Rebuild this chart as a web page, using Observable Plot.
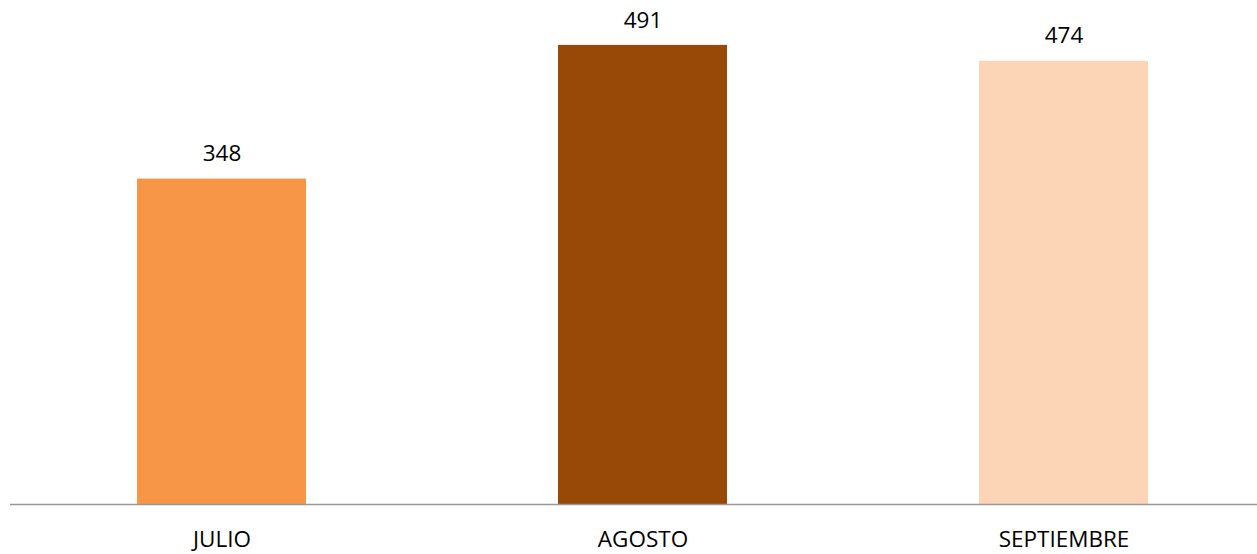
<!DOCTYPE html>
<html>
<head>
<meta charset="utf-8">
<script src="https://cdn.jsdelivr.net/npm/d3@7"></script>
<script src="https://cdn.jsdelivr.net/npm/@observablehq/plot@0.6"></script>
<style>
  html, body { margin: 0; padding: 0; background: #fff; }
  #chart svg { display: block; }
</style>
</head>
<body>
<div id="chart"></div>
<script>
const months = ["JULIO", "AGOSTO", "SEPTIEMBRE"];
const values = [348, 491, 474];
const colors = ["#F79646", "#984807", "#FBD5B5"];

const data = months.map((m, i) => ({month: m, value: values[i], color: colors[i]}));

const chart = Plot.plot({
  width: 1257,
  height: 554,
  marginTop: 0,
  marginLeft: 10,
  marginRight: 0,
  marginBottom: 50,
  style: {fontFamily: "'Open Sans', sans-serif", background: "#fff"},
  x: {domain: months, range: [10, 1274], paddingInner: 0.599, paddingOuter: 0.2995, align: 0.5, label: null},
  y: {domain: [0, 539], axis: null},
  marks: [
    Plot.barY(data, {x: "month", y: "value", fill: "color"}),
    Plot.ruleY([0], {stroke: "#999", strokeWidth: 1.5}),
    Plot.text(data, {x: "month", y: "value", text: d => String(d.value), dy: -25, fontSize: 22.5, fill: "#000"}),
    Plot.axisX({tickSize: 0, tickPadding: 27, fontSize: 22.5, fill: "#000", label: null})
  ]
});
document.getElementById("chart").appendChild(chart);
</script>
</body>
</html>
